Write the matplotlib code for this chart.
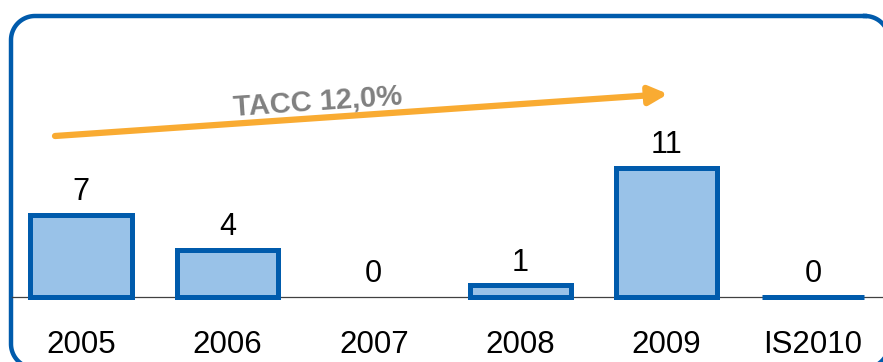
import matplotlib
matplotlib.use("Agg")
import matplotlib.pyplot as plt
import numpy as np

years = ["2005", "2006", "2007", "2008", "2009", "IS2010"]
counts = [7, 4, 0, 1, 11, 0]
drawn = [True, True, False, True, True, True]  # 2007 has no bar in the source
growth_label = "TACC 12,0%"

plt.rcParams["font.family"] = ["Liberation Sans", "DejaVu Sans"]

W, H = 883, 362
fig = plt.figure(figsize=(W / 100, H / 100), dpi=100)


def rounded_rect(x0, y0, x1, y1, r, n=30):
    # y grows downward (pixel coords)
    pts = []
    corners = [(x1 - r, y0 + r, -90, 0), (x1 - r, y1 - r, 0, 90),
               (x0 + r, y1 - r, 90, 180), (x0 + r, y0 + r, 180, 270)]
    for cx, cy, a0, a1 in corners:
        t = np.radians(np.linspace(a0, a1, n))
        pts += list(zip(cx + r * np.cos(t), cy + r * np.sin(t)))
    pts.append(pts[0])
    xs, ys = zip(*pts)
    return xs, ys


# background layer in pixel coords (frame, growth arrow)
bg = fig.add_axes([0, 0, 1, 1])
bg.set_xlim(0, W)
bg.set_ylim(H, 0)
bg.axis("off")
fx, fy = rounded_rect(11, 16, 889, 368, 24)
bg.plot(fx, fy, color="#005BAC", linewidth=3.2, clip_on=False,
        solid_joinstyle="round")
bg.annotate("", xy=(668, 94), xytext=(55, 136),
            arrowprops=dict(arrowstyle="-|>,head_length=1.1,head_width=0.55",
                            color="#F9AB32", lw=4.5, shrinkA=0, shrinkB=0))
bg.text(318, 102, growth_label, rotation=3.9, rotation_mode="anchor",
        ha="center", va="center", fontsize=21, fontweight="bold",
        color="#808080")

# bar layer
ax = fig.add_axes([0, 0, 1, 1])
ax.patch.set_alpha(0)
px = 146.4
ax.set_xlim(-81 / px, (W - 81) / px)
unit = 11.75
ax.set_ylim(-65 / unit, 297 / unit)
ax.axis("off")

x = list(range(len(years)))
bars = ax.bar(x, counts, width=0.69, color="#99C2E8",
              edgecolor="#005BAC", linewidth=3.6, zorder=3)
for b, show in zip(bars, drawn):
    b.set_visible(show)

ax.axhline(0, xmin=12 / W, xmax=1, color="#404040", linewidth=0.9, zorder=2)

for i, v in enumerate(counts):
    ax.annotate(str(v), (i, v), xytext=(0, 10.5), textcoords="offset points",
                ha="center", va="baseline", fontsize=22, color="black")
    ax.annotate(years[i], (i, 0), xytext=(0, -40.5), textcoords="offset points",
                ha="center", va="baseline", fontsize=22.5, color="black")

plt.savefig("out.png", dpi=100)
